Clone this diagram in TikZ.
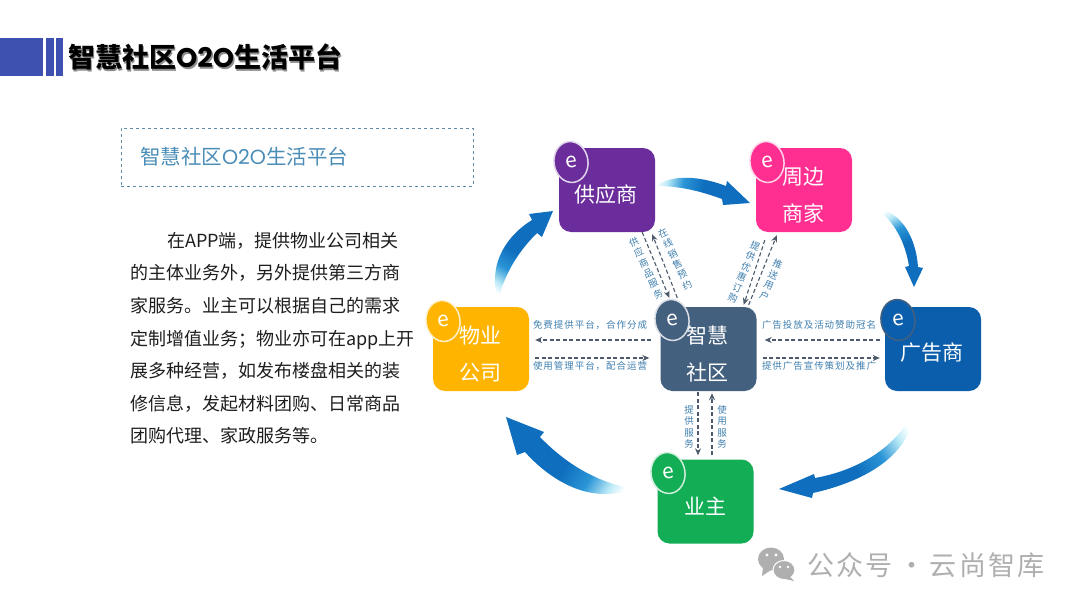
\documentclass[tikz,border=0pt]{standalone}
\usepackage{fontspec}
\setmainfont{Noto Sans CJK SC}
\newfontfamily\latinfont{Poppins}
\newfontfamily\spacedfont[LetterSpace=10]{Noto Sans CJK SC}
\newfontfamily\markfont[LetterSpace=8]{Noto Sans CJK SC}
\usetikzlibrary{arrows.meta,positioning,shapes.geometric}
\definecolor{Ink}{HTML}{1E1E1E}
\definecolor{Bar}{HTML}{3F51B0}
\definecolor{Frame}{HTML}{5F8AA8}
\definecolor{Caption}{HTML}{4A8DB7}
\definecolor{Small}{HTML}{3F7FAF}
\definecolor{Flow}{HTML}{4D5A6B}
\definecolor{Grape}{HTML}{6B2D9B}
\definecolor{Rose}{HTML}{FF2F92}
\definecolor{Amber}{HTML}{FFB400}
\definecolor{Slate}{HTML}{44607F}
\definecolor{Ocean}{HTML}{0B5EAB}
\definecolor{Leaf}{HTML}{12AD55}
\definecolor{Mark}{HTML}{AFAFAF}
\definecolor{SwooshDeep}{HTML}{0F6FBE}
\definecolor{SwooshMid}{HTML}{2A95D6}
\definecolor{SwooshPale}{HTML}{BDEBF7}
\pgfdeclareverticalshading{swooshfade}{100bp}{color(0bp)=(white); color(22bp)=(white); color(28bp)=(SwooshPale); color(38bp)=(SwooshMid); color(50bp)=(SwooshDeep); color(100bp)=(SwooshDeep)}
\tikzset{
  unitbox/.style={
    rounded corners=12pt, minimum width=96pt, minimum height=84pt, inner sep=0pt
  },
  unitlabel/.style={
    text=white, align=center, inner sep=0pt, font=\fontsize{21}{37}\selectfont
  },
  badge/.style={
    ellipse, draw=white!80!#1, fill=#1, line width=1.5pt, text=white,
    minimum width=34pt, minimum height=41pt, inner sep=0pt, rotate=8,
    font=\fontsize{21}{21}\selectfont
  },
  dashflow/.style={-{Stealth[length=7pt,width=6pt]}, dash pattern=on 4pt off 2.5pt, line width=1.1pt, draw=Flow},
  flowlabel/.style={text=Small, inner sep=0pt, font=\fontsize{9.5}{11}\spacedfont},
  stacklabel/.style={text=Small, inner sep=0pt, align=center, font=\fontsize{9.5}{11.4}\selectfont},
  swoosh/.style={shading=swooshfade, shading angle=#1}
}

\begin{document}
\begin{tikzpicture}[x=1pt,y=-1pt]
    \useasboundingbox[fill=white] (0,0) rectangle (1080,608);

    \fill[Bar] (0,38) rectangle (43,76);
    \fill[Bar] (46,38) rectangle (54,76);
    \fill[Bar] (56,38) rectangle (63,76);
    \node[text=black!45,anchor=west,inner sep=0pt,font=\fontsize{27}{30}\bfseries] (titleshade) at (69.5,58.5) {智慧社区{\latinfont O2O}生活平台};
    \node[text=black,anchor=west,inner sep=0pt,font=\fontsize{27}{30}\bfseries] (title) at (68,57) {智慧社区{\latinfont O2O}生活平台};

    \node[draw=Frame,dashed,line width=1pt,minimum height=58pt,inner xsep=19pt,inner ysep=0pt,text width=314pt,align=left,text=Caption,font=\fontsize{20.5}{24}\selectfont] (subtitle) at (297,157) {智慧社区{\latinfont O2O}生活平台};

    \node[anchor=north west,inner sep=0pt,align=left,text=Ink,font=\fontsize{18}{32.6}\selectfont] (story) at (130,232) {\hspace*{37pt}在APP端，提供物业公司相关\\的主体业务外，另外提供第三方商\\家服务。业主可以根据自己的需求\\定制增值业务；物业亦可在app上开\\展多种经营，如发布楼盘相关的装\\修信息，发起材料团购、日常商品\\团购代理、家政服务等。};

    \node[unitbox,fill=Grape] (supplier) at (607,190) {};
    \node[unitbox,fill=Rose] (merchant) at (804,190) {};
    \node[unitbox,fill=Amber] (property) at (481,349) {};
    \node[unitbox,fill=Slate] (hub) at (708.5,349) {};
    \node[unitbox,fill=Ocean] (advertiser) at (933,349) {};
    \node[unitbox,fill=Leaf] (owner) at (705.5,501.5) {};

    \node[unitlabel] (supplierlabel) at (606,195) {供应商};
    \node[unitlabel] (merchantlabel) at (803,195.5) {周边\\商家};
    \node[unitlabel] (propertylabel) at (480,354) {物业\\公司};
    \node[unitlabel] (hublabel) at (707,354) {智慧\\社区};
    \node[unitlabel] (advertiserlabel) at (932,353) {广告商};
    \node[unitlabel] (ownerlabel) at (705,506) {业主};

    \draw[dashflow] ([xshift=-13pt]supplier.south east)--([xshift=9pt,yshift=9pt]hub.north west);
    \draw[dashflow] ([xshift=17pt,yshift=9pt]hub.north west)--([xshift=-3pt,yshift=-2pt]supplier.south east);
    \draw[dashflow] ([xshift=9pt,yshift=-8pt]merchant.south west)--([xshift=-13pt,yshift=2pt]hub.north east);
    \draw[dashflow] ([xshift=-8pt,yshift=2pt]hub.north east)--([xshift=21pt,yshift=-3pt]merchant.south west);
    \draw[dashflow] ([xshift=-9pt,yshift=9pt]hub.west)--([xshift=6pt,yshift=9pt]property.east);
    \draw[dashflow] ([xshift=6pt,yshift=-9pt]property.east)--([xshift=-11pt,yshift=-9pt]hub.west);
    \draw[dashflow] ([xshift=-5pt,yshift=9pt]advertiser.west)--([xshift=8pt,yshift=9pt]hub.east);
    \draw[dashflow] ([xshift=6pt,yshift=-9pt]hub.east)--([xshift=-5pt,yshift=-9pt]advertiser.west);
    \draw[dashflow] ([xshift=-10.5pt,yshift=-1pt]hub.south)--([xshift=-7.5pt,yshift=4pt]owner.north);
    \draw[dashflow] ([xshift=6.5pt,yshift=4pt]owner.north)--([xshift=3.5pt,yshift=-2pt]hub.south);

    \node[badge=Grape] (supplierbadge) at (571,162) {e};
    \node[badge=Rose] (merchantbadge) at (767,162) {e};
    \node[badge=Amber] (propertybadge) at (443,321) {e};
    \node[badge=Slate] (hubbadge) at (672,320) {e};
    \node[badge=Ocean,draw=Slate] (advertiserbadge) at (898,320) {e};
    \node[badge=Leaf] (ownerbadge) at (668,473) {e};

    \node[flowlabel] (freelabel) at (590,325) {免费提供平台，合作分成};
    \node[flowlabel] (uselabel) at (590,366) {使用管理平台，配合运营};
    \node[flowlabel] (adlabel) at (819,325) {广告投放及活动赞助冠名};
    \node[flowlabel] (planlabel) at (819,366) {提供广告宣传策划及推广};
    \node[stacklabel] (servelabel) at (689,427) {提\\供\\服\\务};
    \node[stacklabel] (usinglabel) at (722,427) {使\\用\\服\\务};
    \node[stacklabel,rotate=25] (goodslabel) at (646,268) {供\\应\\商\\品\\服\\务};
    \node[stacklabel,rotate=25] (salelabel) at (675,259) {在\\线\\销\\售\\预\\约};
    \node[stacklabel,rotate=-23] (offerlabel) at (744,272) {提\\供\\优\\惠\\订\\购};
    \node[stacklabel,rotate=-23] (pushlabel) at (771,280) {推\\送\\用\\户};

    \shade[swoosh=-32] (498,300) .. controls (488,268) and (503,238) .. (532,220) -- (529,214) -- (553,211) -- (542,237) -- (537,233) .. controls (520,250) and (506,270) .. (498,300) -- cycle;
    \shade[swoosh=-100] (656,186) .. controls (672,174) and (700,176) .. (726,186) -- (727,181) -- (750,203) -- (723,205) -- (722,199) .. controls (700,191) and (680,186) .. (656,186) -- cycle;
    \shade[swoosh=-153] (875,207) .. controls (902,212) and (916,238) .. (918,267) -- (923,268) -- (914,287) -- (905,267) -- (909,266) .. controls (905,242) and (895,222) .. (875,207) -- cycle;
    \shade[swoosh=120] (914,408) .. controls (914,445) and (880,478) .. (813,493) -- (812,498) -- (779,489) -- (814,474) -- (815,478) .. controls (860,470) and (900,445) .. (914,408) -- cycle;
    \shade[swoosh=58] (632,489) .. controls (600,482) and (570,468) .. (540,437) -- (544,432) -- (506,417) -- (517,455) -- (525,452) .. controls (550,480) and (590,505) .. (632,489) -- cycle;

    \fill[Mark] (771,559) ellipse (13 and 11.5);
    \fill[Mark] (763,567) -- (762,576) -- (771,570) -- cycle;
    \fill[white] (767,555) circle (1.6);
    \fill[white] (776,555) circle (1.6);
    \fill[Mark,draw=white,line width=1pt] (784,570) ellipse (11 and 9.5);
    \fill[Mark] (789,576) -- (794,581) -- (781,578) -- cycle;
    \fill[white] (780,567) circle (1.4);
    \fill[white] (788,567) circle (1.4);
    \node[text=Mark,anchor=west,inner sep=0pt,font=\fontsize{27}{30}\markfont] (watermark) at (807,565) {公众号\hspace{-2pt} · \hspace{-4pt}云尚智库};
\end{tikzpicture}
\end{document}
